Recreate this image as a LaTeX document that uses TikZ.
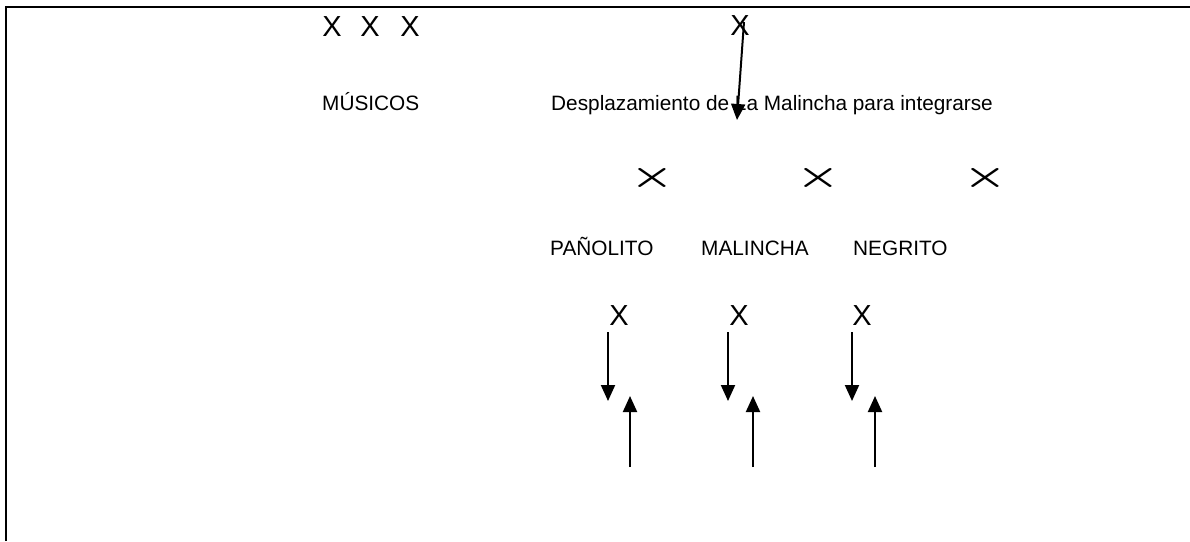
\documentclass[tikz,border=0pt]{standalone}
\usepackage{fontspec}
\setmainfont{Liberation Sans}
\usetikzlibrary{arrows.meta}
\begin{document}
\begin{tikzpicture}[x=1pt,y=-1pt,
  lbl/.style={inner sep=0pt, font=\fontsize{20.8}{25}\selectfont, anchor=base west},
  bigx/.style={inner sep=0pt, font=\fontsize{29}{34}\selectfont},
  smallx/.style={inner sep=0pt, font=\fontsize{32}{36}\selectfont\boldmath},
  borderline/.style={line width=2pt},
  arr/.style={line width=2pt, -{Triangle[width=14pt,length=16pt]}}]
\useasboundingbox (0,0) rectangle (1190,541);
\draw[borderline] (6,541) -- (6,7) -- (1190,7);
% musicians
\node[bigx] (m1) at (332,27) {X};
\node[bigx] (m2) at (370,27) {X};
\node[bigx] (m3) at (410,27) {X};
\node[lbl] (musicos) at (322,110) {MÚSICOS};
% Malinche top
\node[bigx] (mt) at (740,26) {X};
\node[lbl] (desp) at (551,110) {Desplazamiento de La Malincha para integrarse};
\coordinate (mts) at (744,22);
\coordinate (mte) at (737,120);
\draw[arr] (mts) -- (mte);
% small crosses
\node[smallx] (c1) at (652,178) {\scalebox{1.97}[1.37]{$\times$}};
\node[smallx] (c2) at (818,178) {\scalebox{1.97}[1.37]{$\times$}};
\node[smallx] (c3) at (985,178) {\scalebox{1.97}[1.37]{$\times$}};
\node[lbl] (pan) at (550,255) {PAÑOLITO};
\node[lbl] (mal) at (701,255) {MALINCHA};
\node[lbl] (neg) at (853,255) {NEGRITO};
% dancers
\node[bigx] (d1) at (619,316) {X};
\node[bigx] (d2) at (739,316) {X};
\node[bigx] (d3) at (862,316) {X};
\coordinate (a1s) at (608,332); \coordinate (a1e) at (608,401);
\coordinate (a2s) at (728,332); \coordinate (a2e) at (728,401);
\coordinate (a3s) at (852,332); \coordinate (a3e) at (852,401);
\coordinate (b1s) at (630,467); \coordinate (b1e) at (630,396);
\coordinate (b2s) at (753,467); \coordinate (b2e) at (753,396);
\coordinate (b3s) at (875,467); \coordinate (b3e) at (875,396);
\draw[arr] (a1s) -- (a1e);
\draw[arr] (a2s) -- (a2e);
\draw[arr] (a3s) -- (a3e);
\draw[arr] (b1s) -- (b1e);
\draw[arr] (b2s) -- (b2e);
\draw[arr] (b3s) -- (b3e);
\end{tikzpicture}
\end{document}
